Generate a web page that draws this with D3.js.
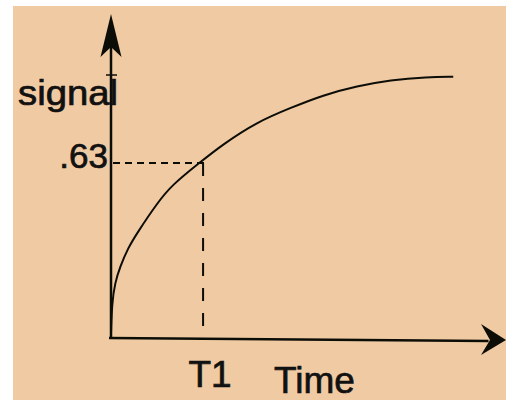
<!DOCTYPE html>
<html>
<head>
<meta charset="utf-8">
<script src="https://cdn.jsdelivr.net/npm/d3@7/dist/d3.min.js"></script>
<style>
  html, body { margin: 0; padding: 0; background: #ffffff; }
  svg { display: block; }
  text { font-family: "Liberation Sans", Arial, sans-serif; fill: #111; stroke: #111; stroke-width: 0.7px; }
</style>
</head>
<body>
<script>
// Time in units of T1, signal as fraction of the final value
const curveTime   = [0, 0.011, 0.043, 0.098, 0.185, 0.283, 0.511, 0.663, 0.957, 1.217, 1.587, 1.946, 2.304, 2.674, 3.033, 3.435, 3.717];
const curveSignal = [0.018, 0.126, 0.198, 0.256, 0.324, 0.378, 0.490, 0.551, 0.630, 0.698, 0.778, 0.828, 0.875, 0.907, 0.929, 0.940, 0.941];
const markerTime = [1.0];          // T1
const markerSignal = [0.63];       // .63
const xLabels = ["T1"];
const yLabels = [".63"];
const axisTitles = ["signal", "Time"];

const W = 506, H = 400;
const svg = d3.select("body").append("svg").attr("width", W).attr("height", H);

// paper background with white scan margin
svg.append("rect").attr("width", W).attr("height", H).attr("fill", "#ffffff");
svg.append("rect").attr("x", 13).attr("y", 6).attr("width", W - 13).attr("height", H - 6).attr("fill", "#f0caa2");

const x = d3.scaleLinear().domain([0, 4.29]).range([111, 506]);
const y = d3.scaleLinear().domain([0, 1.163]).range([338, 15]);

const ink = "#0d0d08";

// y axis
svg.append("line").attr("x1", x(0)).attr("x2", x(0)).attr("y1", y(0) + 1).attr("y2", y(1.12))
  .attr("stroke", ink).attr("stroke-width", 2.5);
const yt = y(1.163);
svg.append("path")
  .attr("d", `M${x(0)},${yt - 1} L${x(0) + 10.5},${yt + 42} L${x(0)},${yt + 32} L${x(0) - 10.5},${yt + 42} Z`)
  .attr("fill", ink);
// small tick near top of y axis
svg.append("line").attr("x1", x(0) - 5).attr("x2", x(0) + 6).attr("y1", 75).attr("y2", 75)
  .attr("stroke", ink).attr("stroke-width", 1.5);

// x axis (slightly slanted as in the scan)
svg.append("line").attr("x1", x(0) - 2).attr("y1", y(0)).attr("x2", x(4.1)).attr("y2", y(0) + 3)
  .attr("stroke", ink).attr("stroke-width", 2.5);
const xt = x(4.29);
svg.append("path")
  .attr("d", `M${xt},${y(0) + 2} L${xt - 25},${y(0) - 14} L${xt - 16},${y(0) + 2} L${xt - 25},${y(0) + 17} Z`)
  .attr("fill", ink);

// dashed guide lines
svg.append("line")
  .attr("x1", x(0) + 2).attr("x2", x(markerTime[0]) + 2)
  .attr("y1", y(markerSignal[0])).attr("y2", y(markerSignal[0]))
  .attr("stroke", ink).attr("stroke-width", 2).attr("stroke-dasharray", "7,5");
svg.append("line")
  .attr("x1", x(markerTime[0])).attr("x2", x(markerTime[0]))
  .attr("y1", y(markerSignal[0])).attr("y2", y(0) - 9)
  .attr("stroke", ink).attr("stroke-width", 2).attr("stroke-dasharray", "13,12");

// curve
const pts = curveTime.map((t, i) => [t, curveSignal[i]]);
svg.append("path")
  .datum(pts)
  .attr("d", d3.line().x(d => x(d[0])).y(d => y(d[1])).curve(d3.curveBasis))
  .attr("fill", "none").attr("stroke", ink).attr("stroke-width", 2);

// labels
svg.append("text").attr("x", 108).attr("y", y(markerSignal[0]) + 5)
  .attr("text-anchor", "end").attr("font-size", 35).text(yLabels[0]);
svg.append("text").attr("x", 18).attr("y", 105)
  .attr("font-size", 35).attr("textLength", 100).attr("lengthAdjust", "spacingAndGlyphs")
  .text(axisTitles[0]);
svg.append("text").attr("x", x(markerTime[0]) + 7).attr("y", 387)
  .attr("text-anchor", "middle").attr("font-size", 37).text(xLabels[0]);
svg.append("text").attr("x", 274).attr("y", 393)
  .attr("font-size", 37).text(axisTitles[1]);
</script>
</body>
</html>
